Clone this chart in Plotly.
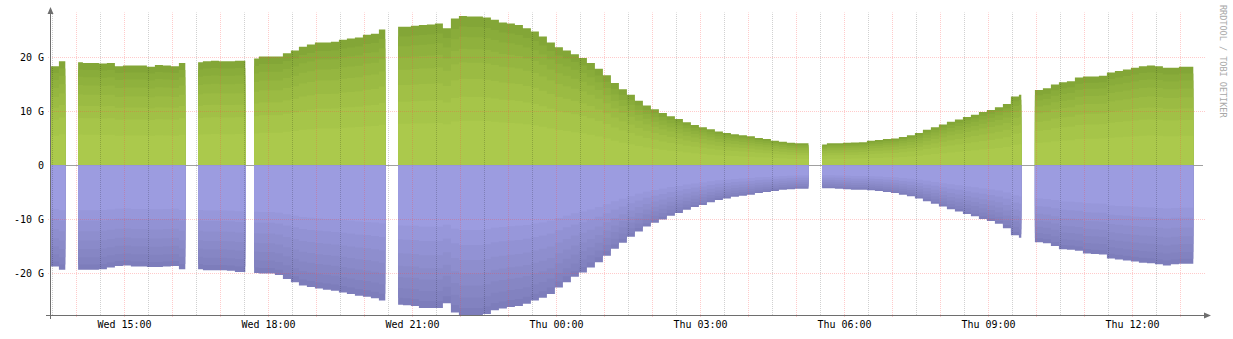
import numpy as np
import pandas as pd
import plotly.graph_objects as go

# ---- data -------------------------------------------------------------
# Aggregate traffic in G, one value per 10-minute sample starting Wed 13:28.
SAMPLE_START = pd.Timestamp("2024-05-15 13:28")
DATA_END = pd.Timestamp("2024-05-16 13:16")

inbound_total = [
    18.4, 19.3, None, 19.1, 19.0, 19.0, 18.9, 19.0, 18.4, 18.5,
    18.5, 18.5, 18.3, 18.6, 18.5, 18.4, 19.0, None, 19.1, 19.3,
    19.4, 19.3, 19.3, 19.4, 19.4, 19.8, 20.2, 20.2, 20.2, 20.8,
    21.3, 22.0, 22.4, 22.8, 22.8, 22.9, 23.3, 23.5, 23.7, 24.2,
    24.4, 25.2, None, 25.7, 25.7, 25.9, 26.0, 26.1, 26.3, 25.4,
    27.2, 27.7, 27.6, 27.6, 27.4, 27.0, 26.5, 26.3, 26.0, 25.4,
    24.8, 23.9, 22.8, 21.9, 21.3, 20.6, 19.9, 19.0, 17.9, 16.7,
    15.3, 14.1, 13.1, 12.0, 11.1, 10.4, 9.7, 9.1, 8.6, 8.0,
    7.5, 7.1, 6.7, 6.3, 6.0, 5.8, 5.6, 5.4, 5.1, 4.9,
    4.6, 4.4, 4.2, 4.1, 4.1, None, 3.9, 4.1, 4.1, 4.2,
    4.25, 4.3, 4.6, 4.7, 4.9, 5.0, 5.3, 5.6, 6.0, 6.6,
    7.1, 7.6, 8.1, 8.5, 9.0, 9.4, 9.9, 10.3, 10.8, 11.4,
    12.8, 13.1, None, 14.0, 14.3, 15.0, 15.4, 15.6, 16.3, 16.5,
    16.5, 16.6, 17.2, 17.5, 17.8, 18.1, 18.4, 18.5, 18.4, 18.1,
    18.1, 18.3, 18.3,
]

outbound_total = [
    18.7, 19.3, None, 19.3, 19.3, 19.3, 19.2, 18.9, 18.6, 18.5,
    18.7, 18.7, 18.8, 18.8, 18.7, 18.6, 19.2, None, 19.2, 19.4,
    19.4, 19.4, 19.5, 19.7, 19.7, 19.9, 20.0, 20.0, 20.3, 21.0,
    21.6, 22.2, 22.5, 22.8, 23.0, 23.2, 23.5, 23.8, 24.1, 24.3,
    24.6, 25.0, None, 25.8, 25.9, 26.0, 26.4, 26.4, 26.4, 25.5,
    27.2, 27.8, 27.8, 27.8, 27.5, 26.8, 26.5, 26.2, 26.0, 25.6,
    25.0, 24.5, 23.8, 22.6, 21.6, 20.6, 19.8, 18.9, 17.9, 16.7,
    15.4, 14.3, 13.2, 12.2, 11.3, 10.6, 10.0, 9.3, 8.8, 8.2,
    7.7, 7.3, 6.8, 6.4, 6.1, 5.8, 5.6, 5.4, 5.1, 4.9,
    4.7, 4.5, 4.4, 4.3, 4.3, None, 4.2, 4.2, 4.3, 4.4,
    4.5, 4.5, 4.6, 4.7, 4.9, 5.1, 5.4, 5.7, 6.1, 6.6,
    7.1, 7.6, 8.1, 8.5, 9.0, 9.4, 9.9, 10.3, 10.8, 11.6,
    12.9, 13.4, None, 14.2, 14.4, 14.9, 15.5, 15.6, 15.8, 16.3,
    16.4, 16.5, 17.2, 17.4, 17.6, 17.8, 18.0, 18.1, 18.3, 18.5,
    18.3, 18.2, 18.2,
]

# Collector outages (no samples recorded)
outages = [
    ("2024-05-15 13:46", "2024-05-15 14:02"),
    ("2024-05-15 16:16", "2024-05-15 16:32"),
    ("2024-05-15 17:31", "2024-05-15 17:42"),
    ("2024-05-15 20:26", "2024-05-15 20:42"),
    ("2024-05-16 05:15", "2024-05-16 05:32"),
    ("2024-05-16 09:41", "2024-05-16 09:57"),
]

# Share of the aggregate carried by each stacked link (innermost first)
inbound_share = [0.30, 0.16, 0.12, 0.11, 0.09, 0.08, 0.07, 0.07]
outbound_share = [0.43, 0.10, 0.10, 0.09, 0.08, 0.08, 0.07, 0.05]

inbound_colors = ["#abc94c", "#a6c549", "#a1c046", "#9bbb43",
                  "#95b640", "#8fb13d", "#89ac3a", "#83a637"]
outbound_colors = ["#9c9ce0", "#9797da", "#9292d4", "#8e8ece",
                   "#8a8ac9", "#8686c4", "#8282c0", "#7d7dbb"]

y_ticks = [-20, -10, 0, 10, 20]
y_tick_text = ["-20 G", "-10 G", "0", "10 G", "20 G"]

# ---- expand samples onto a 1-minute grid ------------------------------
minutes = pd.date_range(SAMPLE_START, DATA_END, freq="1min")
sample_idx = np.asarray((minutes - SAMPLE_START) // pd.Timedelta(minutes=10), dtype=int)


def expand(samples):
    arr = np.array([np.nan if v is None else v for v in samples], dtype=float)[sample_idx]
    for start, end in outages:
        arr[(minutes >= pd.Timestamp(start)) & (minutes < pd.Timestamp(end))] = np.nan
    return np.nan_to_num(arr, nan=0.0)


inbound = expand(inbound_total)
outbound = expand(outbound_total)

# Each band is drawn as its cumulative height filled down to zero,
# outermost first, so neighbouring bands meet without seams.
fig = go.Figure()


def add_bands(total, shares, colors, sign, label):
    cum = np.cumsum(shares)
    for i in reversed(range(len(shares))):
        fig.add_trace(go.Scatter(
            x=minutes, y=sign * total * cum[i], name=f"{label} {i + 1}",
            mode="lines", fill="tozeroy", line=dict(width=0, shape="hv"),
            fillcolor=colors[i], hoverinfo="skip", showlegend=False))


add_bands(inbound, inbound_share, inbound_colors, 1, "in")
add_bands(outbound, outbound_share, outbound_colors, -1, "out")

# ---- layout -----------------------------------------------------------
W, H = 1233, 339
L, R, T, B = 51, 30, 12, 24
PW, PH = W - L - R, H - T - B
PX_PER_G = 5.4
ZERO_PY = 165.5


def fx(px):
    return (px - L) / PW


def fy(py):
    return (H - B - py) / PH


x_start = pd.Timestamp("2024-05-15 13:28:07.5")
x_end = x_start + pd.Timedelta(hours=24)

MAJOR = "rgba(255,70,70,0.28)"
MINOR = "rgba(0,0,0,0.18)"
AXIS = "#6e6e6e"
DOT = "1px,1px"

shapes = []
for t in pd.date_range("2024-05-15 13:30", "2024-05-16 12:30", freq="1h"):
    shapes.append(dict(type="line", xref="x", yref="paper", x0=t, x1=t, y0=0, y1=fy(12.5),
                       line=dict(color=MINOR, width=1, dash=DOT), layer="above"))
for t in pd.date_range("2024-05-15 14:00", "2024-05-16 13:00", freq="1h"):
    shapes.append(dict(type="line", xref="x", yref="paper", x0=t, x1=t, y0=fy(317), y1=fy(12.5),
                       line=dict(color=MAJOR, width=1, dash=DOT), layer="above"))
for v in y_ticks:
    if v == 0:
        continue
    shapes.append(dict(type="line", xref="paper", yref="y", x0=fx(48), x1=fx(1205), y0=v, y1=v,
                       line=dict(color=MAJOR, width=1, dash=DOT), layer="above"))

# axes with arrow heads
shapes += [
    dict(type="line", xref="paper", yref="paper", x0=fx(50.5), x1=fx(50.5), y0=fy(319), y1=fy(11),
         line=dict(color=AXIS, width=1), layer="above"),
    dict(type="path", xref="paper", yref="paper",
         path=f"M {fx(50.5)},{fy(7)} L {fx(47.5)},{fy(14)} L {fx(53.5)},{fy(14)} Z",
         fillcolor=AXIS, line=dict(width=0), layer="above"),
    dict(type="line", xref="paper", yref="paper", x0=fx(46), x1=fx(1206), y0=fy(315.5), y1=fy(315.5),
         line=dict(color=AXIS, width=1), layer="above"),
    dict(type="path", xref="paper", yref="paper",
         path=f"M {fx(1211)},{fy(315.5)} L {fx(1204)},{fy(312.5)} L {fx(1204)},{fy(318.5)} Z",
         fillcolor=AXIS, line=dict(width=0), layer="above"),
]

fig.update_layout(
    width=W, height=H,
    margin=dict(l=L, r=R, t=T, b=B, pad=0, autoexpand=False),
    paper_bgcolor="white", plot_bgcolor="white",
    font=dict(family="DejaVu Sans Mono", size=10, color="#000000"),
    hovermode=False,
    shapes=shapes,
    xaxis=dict(
        type="date", range=[x_start, x_end], automargin=False,
        tick0="2024-05-15 15:00", dtick=3 * 3600 * 1000, tickformat="%a %H:%M",
        showgrid=False, zeroline=False, showline=False, ticks="", ticklabelstandoff=2,
        tickfont=dict(family="DejaVu Sans Mono", size=10, color="#000000"),
    ),
    yaxis=dict(
        range=[-(H - B - ZERO_PY) / PX_PER_G, (ZERO_PY - T) / PX_PER_G], automargin=False,
        tickvals=y_ticks, ticktext=y_tick_text,
        showgrid=False, zeroline=True, zerolinecolor="#a0a0a0", zerolinewidth=1,
        showline=False, ticks="", ticklabelstandoff=6,
        tickfont=dict(family="DejaVu Sans Mono", size=10, color="#000000"),
    ),
    annotations=[dict(
        text="RRDTOOL / TOBI OETIKER", xref="paper", yref="paper",
        x=fx(1223), y=fy(61), xanchor="center", yanchor="middle",
        textangle=90, showarrow=False,
        font=dict(family="DejaVu Sans Mono", size=8.5, color="#a8a8a8"),
    )],
)

fig.write_html("out.html")
